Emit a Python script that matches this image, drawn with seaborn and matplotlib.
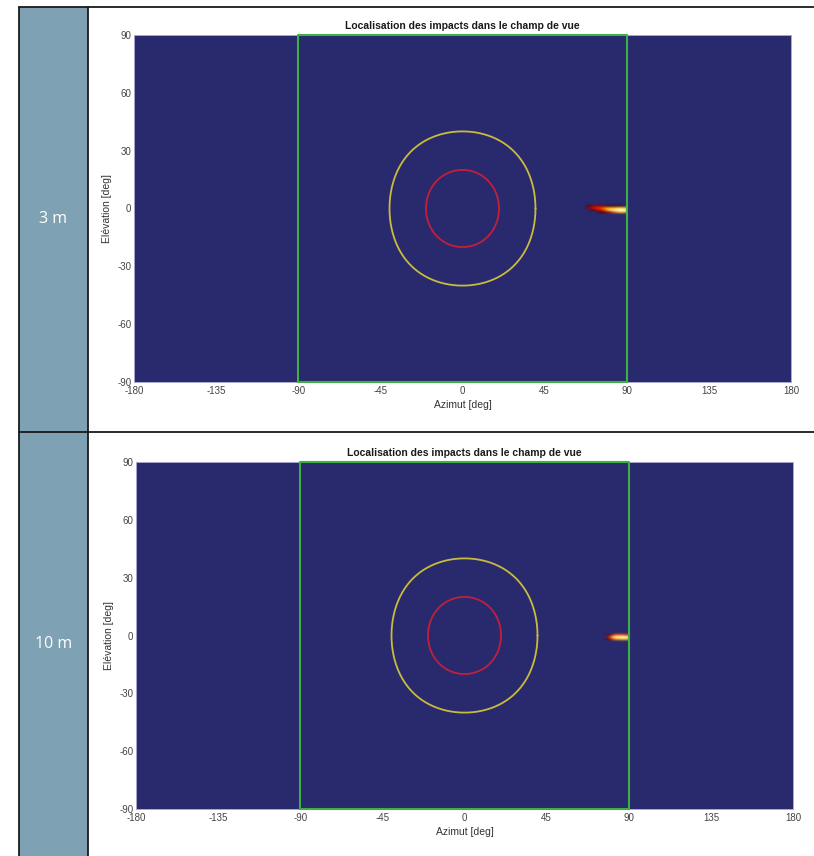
import numpy as np
import seaborn as sns
import matplotlib.pyplot as plt
from matplotlib.colors import LinearSegmentedColormap
from matplotlib.patches import Rectangle

# Table rows: distance label and impact counts (azimut x elevation bins)
row_labels = ["3 m", "10 m"]

# 3 m : az bins 66..90 step 2, el rows +2..-3
az_edges_3m = [66, 90]
el_edges_3m = [2.5, -3.5]
counts_3m = [
    [0, 0, 0, 0, 0, 0, 0, 0, 0, 0, 0, 0],
    [0, 1, 2, 2, 2, 2, 1, 1, 1, 1, 1, 0],
    [0, 2, 3, 4, 4, 5, 6, 6, 6, 7, 7, 6],
    [0, 0, 1, 2, 3, 4, 6, 8, 9, 10, 10, 10],
    [0, 0, 0, 0, 1, 1, 2, 3, 5, 6, 7, 6],
    [0, 0, 0, 0, 0, 0, 0, 0, 0, 0, 0, 0],
]

# 10 m : az bins 76..90 step 2, el rows +1..-3
az_edges_10m = [76, 90]
el_edges_10m = [1.5, -3.5]
counts_10m = [
    [0, 0, 0, 0, 0, 0, 0],
    [0, 1, 3, 5, 5, 5, 4],
    [0, 3, 7, 10, 9, 10, 9],
    [0, 1, 4, 6, 6, 7, 6],
    [0, 0, 0, 0, 0, 0, 0],
]

# field of view limits and cone half-angles
fov_az = [-90, 90]
fov_el = [-90, 90]
cone_angles = [40, 20]
cone_colors = ["#c8bc3c", "#c0203c"]

xticks = [-180, -135, -90, -45, 0, 45, 90, 135, 180]
yticks = [-90, -60, -30, 0, 30, 60, 90]

bg = "#29296e"

sns.set_style("white")
plt.rcParams['font.family'] = ['Liberation Sans', 'DejaVu Sans']
plt.rcParams['axes.unicode_minus'] = False

heat = LinearSegmentedColormap.from_list(
    "impacts",
    [(0.0, bg), (0.06, "#2a0a1a"), (0.22, "#a00000"), (0.42, "#ff3000"),
     (0.65, "#ffd000"), (0.85, "#ffffc0"), (1.0, "#ffffff")])
heat.set_under(bg)

W, H = 814, 856
fig = plt.figure(figsize=(W / 100, H / 100), dpi=100)

# table background
ax_bg = fig.add_axes([0, 0, 1, 1], zorder=-1)
ax_bg.set_xlim(0, W)
ax_bg.set_ylim(H, 0)
ax_bg.axis("off")
ax_bg.add_patch(Rectangle((19, 7), 69, H - 7, color="#7fa1b4", lw=0))
kw = dict(color="#1a1a1a", lw=1.3)
ax_bg.plot([19, W], [7, 7], **kw)
ax_bg.plot([19, W], [432, 432], **kw)
ax_bg.plot([19, 19], [7, H], **kw)
ax_bg.plot([88, 88], [7, H], **kw)
for lab, yc in zip(row_labels, [219, 644]):
    ax_bg.text(53.5, yc, lab, color="white", fontsize=11.5, ha="center",
               va="center", family=["Open Sans", "DejaVu Sans"])

panels = [
    ([134 / W, 1 - 382 / H, 657 / W, 347 / H], counts_3m, az_edges_3m, el_edges_3m),
    ([136 / W, 1 - 809 / H, 657 / W, 347 / H], counts_10m, az_edges_10m, el_edges_10m),
]

phi = np.linspace(0, 2 * np.pi, 361)

for rect, counts, az_e, el_e in panels:
    ax = fig.add_axes(rect)
    ax.set_facecolor(bg)

    ax.imshow(np.array(counts, float), cmap=heat, vmin=0.05, vmax=10,
              extent=[az_e[0], az_e[1], el_e[1], el_e[0]],
              interpolation="bicubic", aspect="auto", zorder=1)

    # cone boundaries
    for ang, col in zip(cone_angles, cone_colors):
        t = np.radians(ang)
        dx = np.cos(t)
        dy = np.sin(t) * np.cos(phi)
        dz = np.sin(t) * np.sin(phi)
        az = np.degrees(np.arctan2(dy, dx))
        el = np.degrees(np.arcsin(dz))
        sns.lineplot(x=az, y=el, sort=False, color=col, lw=1.3, ax=ax,
                     estimator=None, zorder=3)

    # field of view
    sns.lineplot(x=[fov_az[0], fov_az[1], fov_az[1], fov_az[0], fov_az[0]],
                 y=[fov_el[0], fov_el[0], fov_el[1], fov_el[1], fov_el[0]],
                 sort=False, color="#3cb043", lw=1.5, ax=ax, estimator=None,
                 zorder=4, clip_on=False)

    ax.set_xlim(-180, 180)
    ax.set_ylim(-90, 90)
    ax.set_xticks(xticks)
    ax.set_yticks(yticks)
    ax.tick_params(length=0, labelsize=7, colors="#444444", pad=3)
    ax.tick_params(axis="y", pad=2)
    for s in ax.spines.values():
        s.set_color("#a8a8d0")
        s.set_linewidth(0.7)
    ax.set_title("Localisation des impacts dans le champ de vue",
                 fontsize=7.5, fontweight="bold", pad=4, color="#1a1a1a")
    ax.set_xlabel("Azimut [deg]", fontsize=7.5, color="#333333", labelpad=3)
    ax.set_ylabel("Elévation [deg]", fontsize=7.5, color="#333333", labelpad=4)

fig.savefig("out.png", dpi=100)
